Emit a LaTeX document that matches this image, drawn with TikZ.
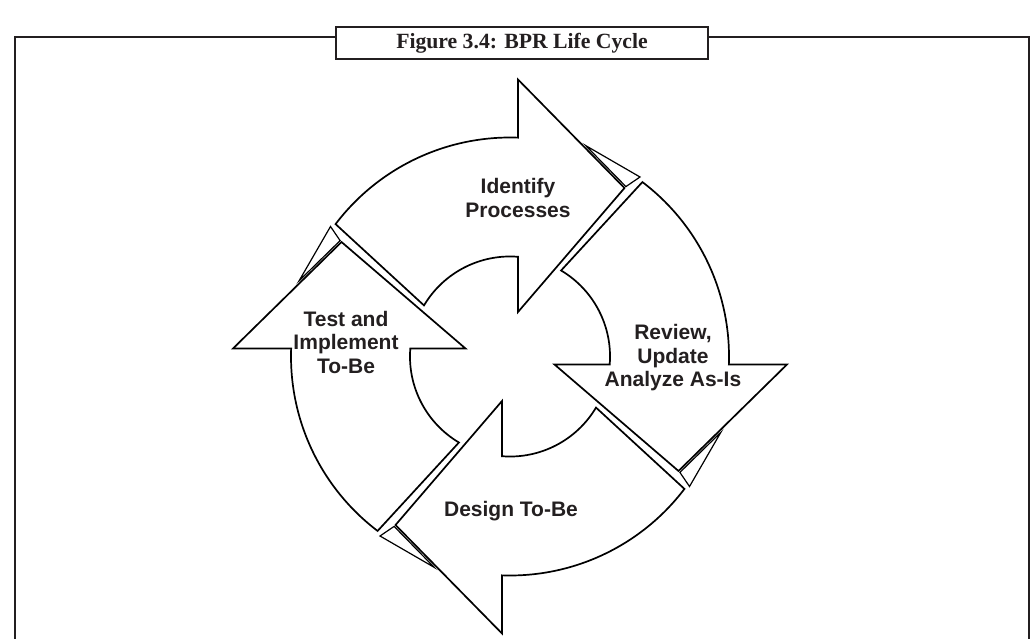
\documentclass[tikz,border=0pt]{standalone}
\usepackage{fontspec}
\setmainfont{Liberation Serif}
\setsansfont{Liberation Sans}

\definecolor{framegray}{RGB}{35,31,32}

\tikzset{
  cyclearrow/.style={draw=black, fill=white, line width=1.7pt, line join=miter},
  tipflap/.style={draw=black, fill=white, line width=1.2pt, line join=miter},
  steplabel/.style={font=\sffamily\bfseries\fontsize{21}{23.5}\selectfont, text=framegray, align=center, inner sep=0pt},
  titlebox/.style={draw=framegray, line width=2.6pt, fill=white, minimum width=372pt, minimum height=32pt, inner sep=0pt, outer sep=0pt, font=\rmfamily\bfseries\fontsize{21.7}{23}\selectfont, text=framegray},
}

% one bent arrow of the cycle, drawn at the top and turned by #1
\newcommand{\bprarrow}[1]{%
\begin{scope}[rotate=#1]
\draw [cyclearrow] (142.8:219) arc[start angle=142.8, end angle=87.9, radius=219] -- (8,277) -- (114.5,168.5) -- (8,44.5) -- (8,99.7) arc[start angle=85.4, end angle=149.3, radius=100] -- cycle ;
\draw [tipflap] (75.7,210.9) -- (130,179.5) -- (115.9,169.9) -- cycle ;
\end{scope}}

\begin{document}
\begin{tikzpicture}[x=1pt,y=1pt,yscale=-1]
\useasboundingbox (0,0) rectangle (1032,639);

%Frame corners
\coordinate (ftl) at (15,37);
\coordinate (ftr) at (1029,37);
\coordinate (fbl) at (15,639);
\coordinate (fbr) at (1029,639);

%Shape: Title box
\node [titlebox] (title) at (522,43) {Figure 3.4: BPR Life Cycle};

%Straight Lines: frame
\draw [framegray, line width=2.6pt] (title.west |- ftl) -- (ftl) -- (fbl) ;
\draw [framegray, line width=2.6pt] (title.east |- ftr) -- (ftr) -- (fbr) ;

%Shape: four arrows round the centre
\begin{scope}[shift={(510,356.5)}, yscale=-1]
\bprarrow{0}
\bprarrow{-90}
\bprarrow{-180}
\bprarrow{-270}
\end{scope}

% Text Node
\node [steplabel] (identify) at (518,198) {Identify\\Processes};
% Text Node
\node [steplabel] (review) at (673,358) {Review,\\Update\\Analyze As-Is};
% Text Node
\node [steplabel] (design) at (511,511) {Design To-Be};
% Text Node
\node [steplabel] (testimpl) at (346,342) {Test and\\Implement\\To-Be};

\end{tikzpicture}
\end{document}
